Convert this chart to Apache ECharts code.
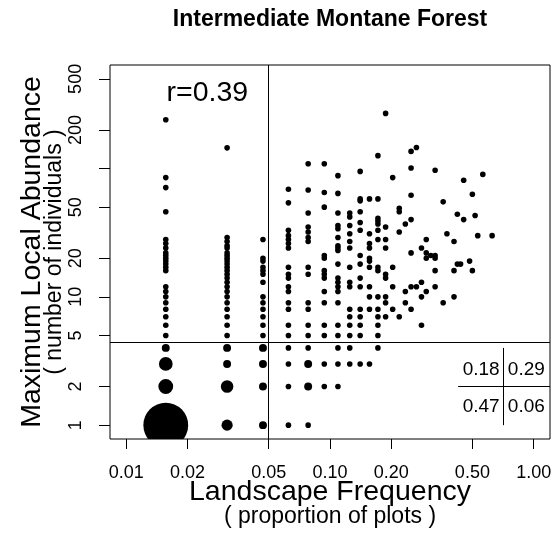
<!DOCTYPE html>
<html>
<head>
<meta charset="utf-8">
<script src="https://cdn.jsdelivr.net/npm/echarts@6/dist/echarts.min.js"></script>
<style>
  html, body { margin: 0; padding: 0; background: #fff; }
  #chart { width: 557px; height: 536px; }
</style>
</head>
<body>
<div id="chart"></div>
<script>
// Species of the intermediate montane forest: number of plots a species occupies
// (out of all plots) against its maximum abundance within a single plot.
const plotTotal = 64;

const occupiedPlots = [1, 2, 3, 4, 5, 6, 7, 8, 9, 10, 11, 12, 13, 14, 15, 16, 17, 18, 19,
                       20, 21, 23, 24, 26, 27, 28, 29, 31, 32, 33, 34, 36, 40];

// Maximum local abundance of each species, grouped by number of occupied plots
const maxAbundance = [
  [1, 2, 3, 4, 5, 6, 7, 8, 9, 10, 11, 12, 16, 17, 18, 19, 20, 21, 22, 24, 26, 28, 46, 71, 85, 240],
  [1, 2, 3, 4, 5, 6, 7, 8, 9, 10, 11, 12, 13, 14, 15, 16, 17, 18, 19, 20, 21, 22, 24, 25, 27, 29, 145],
  [1, 2, 3, 4, 5, 6, 7, 8, 9, 10, 13, 15, 16, 17, 19, 20, 28],
  [1, 2, 3, 4, 5, 6, 8, 9, 11, 12, 14, 15, 17, 24, 26, 28, 30, 33, 54, 69],
  [1, 2, 3, 4, 5, 6, 8, 9, 15, 17, 27, 29, 32, 35, 45, 68, 109],
  [2, 3, 5, 6, 9, 11, 14, 15, 16, 20, 21, 50, 65, 109],
  [2, 3, 4, 5, 6, 9, 11, 12, 13, 14, 18, 23, 24, 25, 29, 34, 36, 45, 64, 88],
  [3, 4, 5, 6, 7, 8, 12, 13, 17, 24, 27, 31, 36, 42, 45],
  [3, 5, 6, 7, 8, 12, 14, 18, 21, 33, 38, 46, 56, 58, 95],
  [3, 8, 10, 12, 17, 19, 20, 24, 26, 31, 58],
  [4, 5, 6, 7, 8, 10, 16, 17, 28, 33, 37, 39, 41, 58, 126],
  [7, 9, 10, 14, 15, 24, 28, 35, 269],
  [8, 12, 17, 85],
  [7, 32, 46, 49],
  [9, 11, 37],
  [8, 12, 22, 40, 62, 101, 136],
  [12, 146],
  [6, 10, 13, 24],
  [11, 20, 22, 28],
  [21],
  [12, 16, 20, 21, 97],
  [9, 55],
  [31],
  [10, 16, 27],
  [18, 44],
  [18],
  [40, 81],
  [19],
  [16, 63],
  [43],
  [30],
  [90],
  [30]
];

// Points shared by several species: [occupied plots, abundance, species]
const pooledSpecies = [
  [1, 1, 64], [1, 2, 7], [1, 3, 6], [1, 4, 2],
  [2, 1, 4], [2, 2, 5], [2, 3, 2], [2, 4, 2],
  [3, 1, 2], [3, 2, 2], [3, 3, 2], [3, 4, 2],
  [5, 2, 2], [5, 3, 2]
];

const xTicks = [0.01, 0.02, 0.05, 0.1, 0.2, 0.5, 1];
const yTicks = [1, 2, 5, 10, 20, 50, 100, 200, 500];
const yTickLabels = [1, 2, 5, 10, 20, 50, 200, 500];

const frequencySplit = 0.05;
const abundanceSplit = 4.45;
const quadrantShares = [['0.18', '0.29'], ['0.47', '0.06']];
const correlation = '0.39';

// ---------------------------------------------------------------------------
const FONT = '"Liberation Sans", Arial, Helvetica, sans-serif';
const INK = '#000';
const DOT = 5.6;

const xMin = Math.pow(10, -2.08), xMax = Math.pow(10, 0.08);
const yMin = Math.pow(10, -0.108), yMax = Math.pow(10, 2.807);

const points = [];
occupiedPlots.forEach(function (n, i) {
  maxAbundance[i].forEach(function (a) {
    const pooled = pooledSpecies.find(function (p) { return p[0] === n && p[1] === a; });
    points.push([n / plotTotal, a, pooled ? pooled[2] : 1]);
  });
});

const chart = echarts.init(document.getElementById('chart'), null, { renderer: 'canvas' });

const lineStyle = { color: INK, width: 1, type: 'solid' };

chart.setOption({
  animation: false,
  backgroundColor: '#fff',
  grid: {
    left: 110, top: 65, width: 440, height: 374,
    show: true, borderColor: INK, borderWidth: 1, backgroundColor: 'transparent'
  },
  xAxis: {
    type: 'log', logBase: 10, min: xMin, max: xMax,
    axisLine: { show: false },
    splitLine: { show: false },
    minorTick: { show: false },
    axisTick: { show: true, inside: false, length: 10, customValues: xTicks, lineStyle: lineStyle },
    axisLabel: {
      customValues: xTicks, margin: 25, fontSize: 18, fontFamily: FONT, color: INK,
      formatter: function (v) { return Number(v).toFixed(2); }
    }
  },
  yAxis: {
    type: 'log', logBase: 10, min: yMin, max: yMax,
    axisLine: { show: false },
    splitLine: { show: false },
    minorTick: { show: false },
    axisTick: { show: true, inside: false, length: 11, customValues: yTicks, lineStyle: lineStyle },
    axisLabel: {
      customValues: yTickLabels, rotate: 90, margin: 25, fontSize: 18, fontFamily: FONT, color: INK,
      formatter: function (v) { return String(Math.round(v)); }
    }
  },
  series: [
    {
      // one disc per point, sized by how many species share it, clipped to the plot box
      type: 'custom',
      data: points,
      encode: { x: 0, y: 1 },
      clip: true,
      silent: true,
      renderItem: function (params, api) {
        const c = api.coord([api.value(0), api.value(1)]);
        return {
          type: 'circle',
          shape: { cx: c[0], cy: c[1], r: DOT * Math.sqrt(api.value(2)) / 2 },
          style: { fill: INK }
        };
      }
    },
    {
      // reference lines and the quadrant table frame
      type: 'scatter',
      data: [],
      silent: true,
      markLine: {
        silent: true,
        symbol: ['none', 'none'],
        label: { show: false },
        lineStyle: lineStyle,
        data: [
          { xAxis: frequencySplit },
          { yAxis: abundanceSplit },
          [{ coord: [0.4256, 2] }, { coord: [xMax, 2] }],
          [{ coord: [0.71, 4] }, { coord: [0.71, 1] }]
        ]
      }
    }
  ]
});

// Free text: title, axis titles, correlation and quadrant shares
function px(x, y) { return chart.convertToPixel({ gridIndex: 0 }, [x, y]); }
function label(text, x, y, size, extra) {
  return Object.assign({
    type: 'text', x: x, y: y,
    style: {
      text: text, fill: INK, fontFamily: FONT, fontSize: size,
      align: 'center', verticalAlign: 'middle',
      textAlign: 'center', textVerticalAlign: 'middle'
    }
  }, extra || {});
}

const rPos = px(0.025, 390);
const q00 = px(0.552, 2.72), q01 = px(0.92, 2.72);
const q10 = px(0.552, 1.39), q11 = px(0.92, 1.39);

const titleEl = label('Intermediate Montane Forest', 330, 20, 23);
titleEl.style.fontWeight = 'bold';

chart.setOption({
  graphic: [
    titleEl,
    label('Landscape Frequency', 330, 492, 28.5),
    label('( proportion of plots )', 330, 517, 23),
    label('Maximum Local Abundance', 32, 252, 28.5, { rotation: Math.PI / 2 }),
    label('( number of individuals )', 55, 252, 23, { rotation: Math.PI / 2 }),
    label('r=' + correlation, rPos[0], rPos[1], 28.5),
    label(quadrantShares[0][0], q00[0], q00[1], 19),
    label(quadrantShares[0][1], q01[0], q01[1], 19),
    label(quadrantShares[1][0], q10[0], q10[1], 19),
    label(quadrantShares[1][1], q11[0], q11[1], 19)
  ]
});
</script>
</body>
</html>
